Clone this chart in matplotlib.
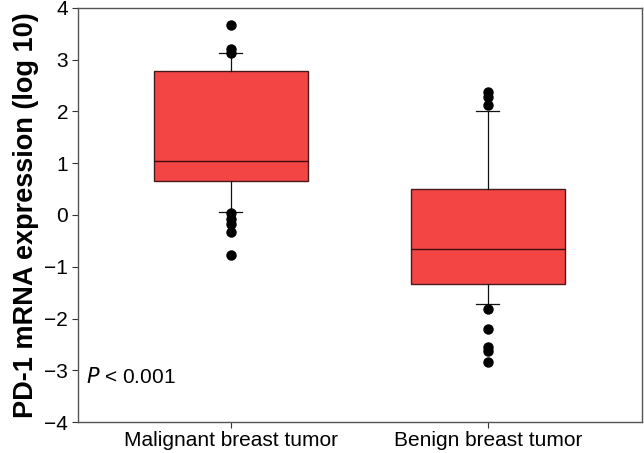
import matplotlib
matplotlib.use("Agg")
import matplotlib.pyplot as plt

plt.rcParams['font.family'] = ['Liberation Sans', 'DejaVu Sans']

# groups
categorias = ["Malignant breast tumor", "Benign breast tumor"]

# box statistics (log 10 values)
mediana = [1.04, -0.66]
q1 = [0.65, -1.33]
q3 = [2.77, 0.50]
whisker_baixo = [0.05, -1.71]
whisker_alto = [3.12, 2.01]

# outliers
outliers_maligno = [3.66, 3.20, 3.13, 0.03, -0.08, -0.18, -0.32, -0.77]
outliers_benigno = [2.37, 2.27, 2.12, -1.81, -2.20, -2.54, -2.62, -2.84]

stats = []
for i, nome in enumerate(categorias):
    stats.append({
        "label": nome,
        "med": mediana[i],
        "q1": q1[i],
        "q3": q3[i],
        "whislo": whisker_baixo[i],
        "whishi": whisker_alto[i],
        "fliers": [outliers_maligno, outliers_benigno][i],
    })

fig = plt.figure(figsize=(6.44, 4.53), dpi=100)
ax = fig.add_axes([0.121, 0.068, 0.876, 0.915])

ax.bxp(stats, positions=[1, 2], widths=0.6, patch_artist=True,
       boxprops=dict(facecolor="#f44545", edgecolor="#4a1a1a", linewidth=1.0),
       medianprops=dict(color="#3a0d0d", linewidth=1.0),
       whiskerprops=dict(color="#111111", linewidth=0.9),
       capprops=dict(color="#111111", linewidth=0.9),
       capwidths=0.09,
       flierprops=dict(marker="o", markerfacecolor="black", markeredgecolor="black",
                       markersize=6.5, linestyle="none"))

ax.set_xlim(0.405, 2.6)
ax.set_ylim(-4, 4)
ax.set_yticks(range(-4, 5))
ax.set_yticklabels([str(v).replace("-", "\u2212") for v in range(-4, 5)])
ax.set_xticks([1, 2])
ax.set_xticklabels(categorias)
ax.tick_params(axis="both", labelsize=15, direction="out", length=4, width=0.8, colors="#333333", labelcolor="black")
ax.tick_params(axis="x", pad=2)
ax.tick_params(axis="y", pad=3)

for s in ax.spines.values():
    s.set_color("#555555")
    s.set_linewidth(1.0)

ax.set_ylabel("PD-1 mRNA expression (log 10)", fontsize=19.5, fontweight="bold", labelpad=4)

ax.text(0.015, 0.11, "$\\it{P}$ < 0.001", transform=ax.transAxes, fontsize=15, va="center", ha="left")

plt.savefig("out.png", dpi=100)
plt.close(fig)
